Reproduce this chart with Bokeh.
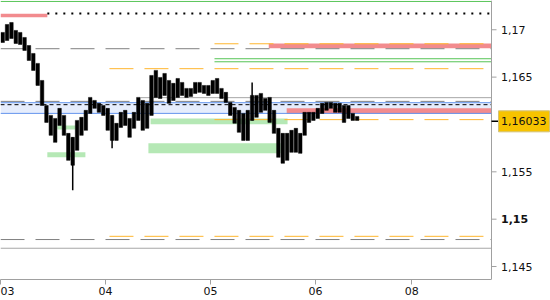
import numpy as np
from bokeh.plotting import figure
from bokeh.models import ColumnDataSource, Range1d, FixedTicker
from bokeh.core.properties import value
from bokeh.embed import file_html
from bokeh.resources import INLINE

# ---- data (x in hours from 03 00:00, hourly bars) ----
body_top = [1.16972, 1.17056, 1.17077, 1.16993, 1.16972, 1.16919, 1.16834, 1.16750, 1.16645, 1.16465,
            1.16201, 1.16096, 1.16064, 1.16170, 1.16096, 1.15906, 1.15864, 1.16043, 1.16075, 1.16149,
            1.16286, 1.16254, 1.16223, 1.16201, 1.16170, 1.16096, 1.16012, 1.16128, 1.16149, 1.16064,
            1.16128, 1.16286, 1.16254, 1.16223, 1.16518, 1.16571, 1.16497, 1.16539, 1.16465, 1.16434,
            1.16486, 1.16444, 1.16381, 1.16381, 1.16444, 1.16444, 1.16412, 1.16412, 1.16465, 1.16486,
            1.16381, 1.16339, 1.16233, 1.16180, 1.16149, 1.16117, 1.16149, 1.16307, 1.16307, 1.16328,
            1.16275, 1.16286, 1.16149, 1.15959, 1.15906, 1.15906, 1.15938, 1.15959, 1.15906, 1.16128,
            1.16128, 1.16128, 1.16170, 1.16223, 1.16233, 1.16233, 1.16223, 1.16223, 1.16201, 1.16201,
            1.16117, 1.16085]
body_bot = [1.16866, 1.16887, 1.16908, 1.16855, 1.16845, 1.16782, 1.16676, 1.16571, 1.16412, 1.16201,
            1.16022, 1.15885, 1.15811, 1.15990, 1.15885, 1.15621, 1.15569, 1.15727, 1.15885, 1.15938,
            1.16117, 1.16170, 1.16128, 1.16096, 1.15938, 1.15832, 1.15832, 1.15969, 1.15990, 1.15864,
            1.15959, 1.16043, 1.15938, 1.15959, 1.16096, 1.16286, 1.16275, 1.16307, 1.16223, 1.16254,
            1.16286, 1.16307, 1.16286, 1.16296, 1.16328, 1.16339, 1.16328, 1.16307, 1.16328, 1.16328,
            1.16275, 1.16233, 1.16096, 1.16012, 1.15917, 1.15832, 1.15832, 1.16043, 1.16075, 1.16128,
            1.16149, 1.16022, 1.15906, 1.15653, 1.15590, 1.15621, 1.15706, 1.15706, 1.15695, 1.15885,
            1.16022, 1.16043, 1.16064, 1.16117, 1.16149, 1.16170, 1.16128, 1.16128, 1.16022, 1.16064,
            1.16043, 1.16043]
wick_hour = [16, 25, 57]
wick_high = [1.15864, 1.16096, 1.16444]
wick_low = [1.15305, 1.15748, 1.16043]

last_price = 1.16033
last_price_label = "1,16033"
day_ticks = [0, 24, 48, 72, 94]
day_labels = ["03", "04", "05", "06", "08"]
price_ticks = [1.145, 1.155, 1.165, 1.17]
price_labels = ["1,145", "1,155", "1,165", "1,17"]
bold_ticks = [1.15]
bold_labels = ["1,15"]

x_end = 112.2   # end of the chart area (hours)

gray_dash_levels = [1.16800, 1.16244, 1.14785]
orange_levels = [1.16852, 1.16589, 1.16051, 1.14819]
orange_start = [48.9, 24.9, 48.9, 24.9]
green_levels = [1.17299, 1.16694, 1.16662]
green_start = [0, 48.9, 48.9]
gray_solid_levels = [1.16283, 1.14693]
gray_solid_start = [32.0, 0]
dotted_level = 1.17172
dotted_start = 10.7
blue_top, blue_bot = 1.16230, 1.16117
black_dash_level = 1.16209
red_left = [0, 61.3, 65.4]
red_right = [10.7, x_end, x_end]
red_top = [1.17169, 1.16855, 1.16170]
red_bot = [1.17133, 1.16806, 1.16114]
grn_left = [10.7, 13.0, 34.3, 33.8]
grn_right = [19.4, 17.1, 65.6, 64.0]
grn_top = [1.15706, 1.15990, 1.16064, 1.15801]
grn_bot = [1.15653, 1.15948, 1.16001, 1.15695]

FONT = "DejaVu Sans"
W, H = 550, 300
CHART_W = 491                      # pixel width of the price area
x_full = x_end * W / CHART_W       # frame spans the full width; price scale drawn on the right
hpp = x_full / W                   # hours per pixel
y_lo, y_hi = 1.14363, 1.17309

p = figure(width=W, height=H, output_backend="svg", toolbar_location=None,
           x_range=Range1d(0, x_full), y_range=Range1d(y_lo, y_hi),
           y_axis_location=None, min_border_left=0, min_border_top=0,
           min_border_right=0, min_border_bottom=21)
p.outline_line_color = None
p.grid.visible = False
p.background_fill_color = "white"

# zones
p.quad(left=[0], right=[x_end], top=[blue_top], bottom=[blue_bot],
       fill_color="#e6edfc", line_color=None)
p.quad(left=red_left, right=red_right, top=red_top, bottom=red_bot,
       fill_color="#f28b8e", line_color=None)
p.quad(left=grn_left, right=grn_right, top=grn_top, bottom=grn_bot,
       fill_color="#b5e8b5", line_color=None)

# level lines
n = len(gray_dash_levels)
p.segment(x0=[0] * n, x1=[x_end] * n, y0=gray_dash_levels, y1=gray_dash_levels,
          line_color="#808080", line_width=1, line_dash="24 11")
p.segment(x0=orange_start, x1=[x_end] * len(orange_levels), y0=orange_levels, y1=orange_levels,
          line_color="#ffb62e", line_width=1, line_dash="24 11")
p.segment(x0=green_start, x1=[x_end] * len(green_levels), y0=green_levels, y1=green_levels,
          line_color="#55c455", line_width=1)
p.segment(x0=gray_solid_start, x1=[x_end] * len(gray_solid_levels), y0=gray_solid_levels,
          y1=gray_solid_levels, line_color="#a6a6a6", line_width=1)
p.segment(x0=[0, 0], x1=[x_end, x_end], y0=[blue_top, blue_bot], y1=[blue_top, blue_bot],
          line_color="#6495ed", line_width=1)
p.segment(x0=[0], x1=[x_end], y0=[black_dash_level], y1=[black_dash_level],
          line_color="black", line_width=1, line_dash="4 3")
p.segment(x0=[dotted_start], x1=[x_end], y0=[dotted_level], y1=[dotted_level],
          line_color="black", line_width=2, line_dash="2 6")

# candles
hours = np.arange(len(body_top)) + 0.5
src = ColumnDataSource(dict(x=hours, top=body_top, bottom=body_bot))
p.vbar(x="x", width=0.8, top="top", bottom="bottom", source=src,
       fill_color="black", line_color="black", line_width=0.5)
p.segment(x0=np.array(wick_hour) + 0.5, x1=np.array(wick_hour) + 0.5, y0=wick_high, y1=wick_low,
          line_color="black", line_width=1.5)

# time axis (real Bokeh axis, limited to the price area)
ax = p.xaxis[0]
ax.ticker = FixedTicker(ticks=day_ticks)
ax.major_label_overrides = dict(zip(day_ticks, day_labels))
ax.bounds = (0, x_end)
ax.axis_line_color = "#a0a0a0"
ax.major_tick_line_color = "#a0a0a0"
ax.minor_tick_line_color = None
ax.major_tick_out = 5
ax.major_tick_in = 0
ax.major_label_text_font = FONT
ax.major_label_text_font_size = "11px"
ax.major_label_text_color = "#111111"
ax.major_label_standoff = 2

# price scale on the right, drawn on the y scale
p.segment(x0=[x_end], x1=[x_end], y0=[y_lo], y1=[y_hi], line_color="#a0a0a0", line_width=1)
all_ticks = price_ticks + bold_ticks
p.segment(x0=[x_end] * len(all_ticks), x1=[x_end + 5 * hpp] * len(all_ticks),
          y0=all_ticks, y1=all_ticks, line_color="#a0a0a0", line_width=1)
lab_x = x_end + 9.5 * hpp
p.text(x=[lab_x] * len(price_ticks), y=price_ticks, text=price_labels,
       text_font=value(FONT), text_font_size="11px", text_color="#111111",
       text_baseline="middle", text_align="left")
p.text(x=[lab_x] * len(bold_ticks), y=bold_ticks, text=bold_labels,
       text_font=value(FONT), text_font_size="11px", text_font_style="bold",
       text_color="#111111", text_baseline="middle", text_align="left")

# last price marker
ppy = (y_hi - y_lo) / 279.0
p.segment(x0=[x_end], x1=[x_end + 7 * hpp], y0=[last_price], y1=[last_price],
          line_color="black", line_width=1.5)
p.quad(left=[x_end + 7 * hpp], right=[x_end + 58 * hpp],
       top=[last_price + 10.5 * ppy], bottom=[last_price - 10.5 * ppy],
       fill_color="#f7c300", line_color="#d2c27a", line_width=1)
p.text(x=[lab_x], y=[last_price], text=[last_price_label],
       text_font=value(FONT), text_font_size="11px", text_color="#111111",
       text_baseline="middle", text_align="left")

open("out.html", "w").write(file_html(p, INLINE))
